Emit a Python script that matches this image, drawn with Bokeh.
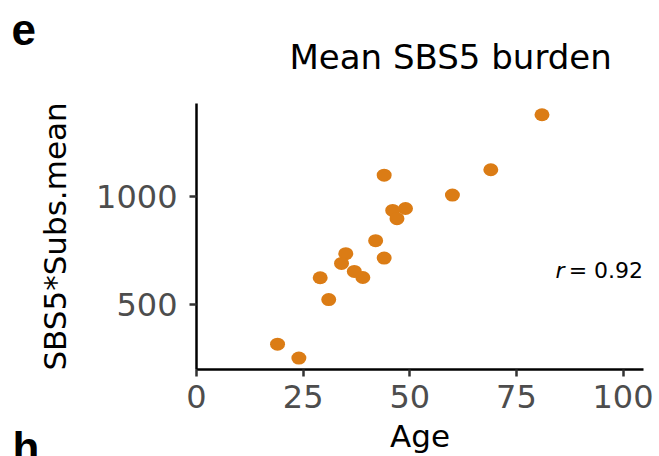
from bokeh.plotting import figure
from bokeh.models import ColumnDataSource, Range1d, FixedTicker, Label, Title
from bokeh.embed import file_html
from bokeh.resources import INLINE

# ---- data ----
age = [81, 69, 60, 44, 49, 46, 47, 42, 44, 35, 34, 37, 39, 29, 31, 19, 24]
sbs5_mean = [1376, 1122, 1005, 1097, 943, 934, 896, 794, 714, 734, 689, 652, 624, 623, 522, 316, 252]
x_ticks = [0, 25, 50, 75, 100]
y_ticks = [500, 1000]
title_text = "Mean SBS5 burden"
x_label = "Age"
y_label = "SBS5*Subs.mean"
r_value = "= 0.92"
panel_letter = "e"
next_panel_letter = "h"

FONT = "DejaVu Sans"
LETTER_FONT = "Liberation Sans"
DOT = "#DB7C15"

src = ColumnDataSource(dict(age=age, sbs5=sbs5_mean))

p = figure(width=659, height=456, output_backend="svg", toolbar_location=None, title=None,
           x_range=Range1d(0, 104.8), y_range=Range1d(199, 1428),
           min_border_left=196, min_border_right=16, min_border_top=103, min_border_bottom=87)

p.ellipse(x="age", y="sbs5", width=15, height=13, width_units="screen", height_units="screen",
          fill_color=DOT, line_color=None, source=src)

p.grid.visible = False
p.outline_line_color = None
p.background_fill_color = "white"
p.border_fill_color = "white"

for ax, ticks in ((p.xaxis[0], x_ticks), (p.yaxis[0], y_ticks)):
    ax.ticker = FixedTicker(ticks=ticks)
    ax.minor_tick_line_color = None
    ax.axis_line_color = "black"
    ax.axis_line_width = 2.5
    ax.major_tick_line_color = "#333333"
    ax.major_tick_line_width = 2.5
    ax.major_tick_out = 7
    ax.major_tick_in = 0
    ax.major_label_text_font = FONT
    ax.major_label_text_font_size = "32px"
    ax.major_label_text_color = "#4D4D4D"
    ax.axis_label_text_font = FONT
    ax.axis_label_text_font_size = "31px"
    ax.axis_label_text_font_style = "normal"
    ax.axis_label_text_color = "black"

p.xaxis.major_label_standoff = 8
p.yaxis.major_label_standoff = 12

p.yaxis.axis_label = y_label
p.yaxis.axis_label_standoff = 20
p.xaxis.axis_label = x_label
p.xaxis.axis_label_standoff = 7

# title (inner) and panel letter (outer) above the plot
t_main = Title(text=title_text, text_font=FONT, text_font_size="34px", text_font_style="normal",
               text_color="black", align="left", offset=93, vertical_align="top", standoff=50)
p.add_layout(t_main, "above")
t_e = Title(text=panel_letter, text_font=LETTER_FONT, text_font_size="44px", text_font_style="bold",
            text_color="black", align="left", offset=-185, vertical_align="bottom", standoff=-67)
p.add_layout(t_e, "above")
t_h = Title(text=next_panel_letter, text_font=LETTER_FONT, text_font_size="44px", text_font_style="bold",
            text_color="black", align="left", offset=-184, vertical_align="top", standoff=-67)
p.add_layout(t_h, "below")

# correlation annotation
p.add_layout(Label(x=84.17, y=658, text="r", text_font=FONT, text_font_size="22px",
                   text_font_style="italic", text_align="left", text_baseline="alphabetic",
                   text_color="black"))
p.add_layout(Label(x=104.7, y=658, text=r_value, text_font=FONT, text_font_size="22px",
                   text_font_style="normal", text_align="right", text_baseline="alphabetic",
                   text_color="black"))

open("out.html", "w").write(file_html(p, INLINE))
